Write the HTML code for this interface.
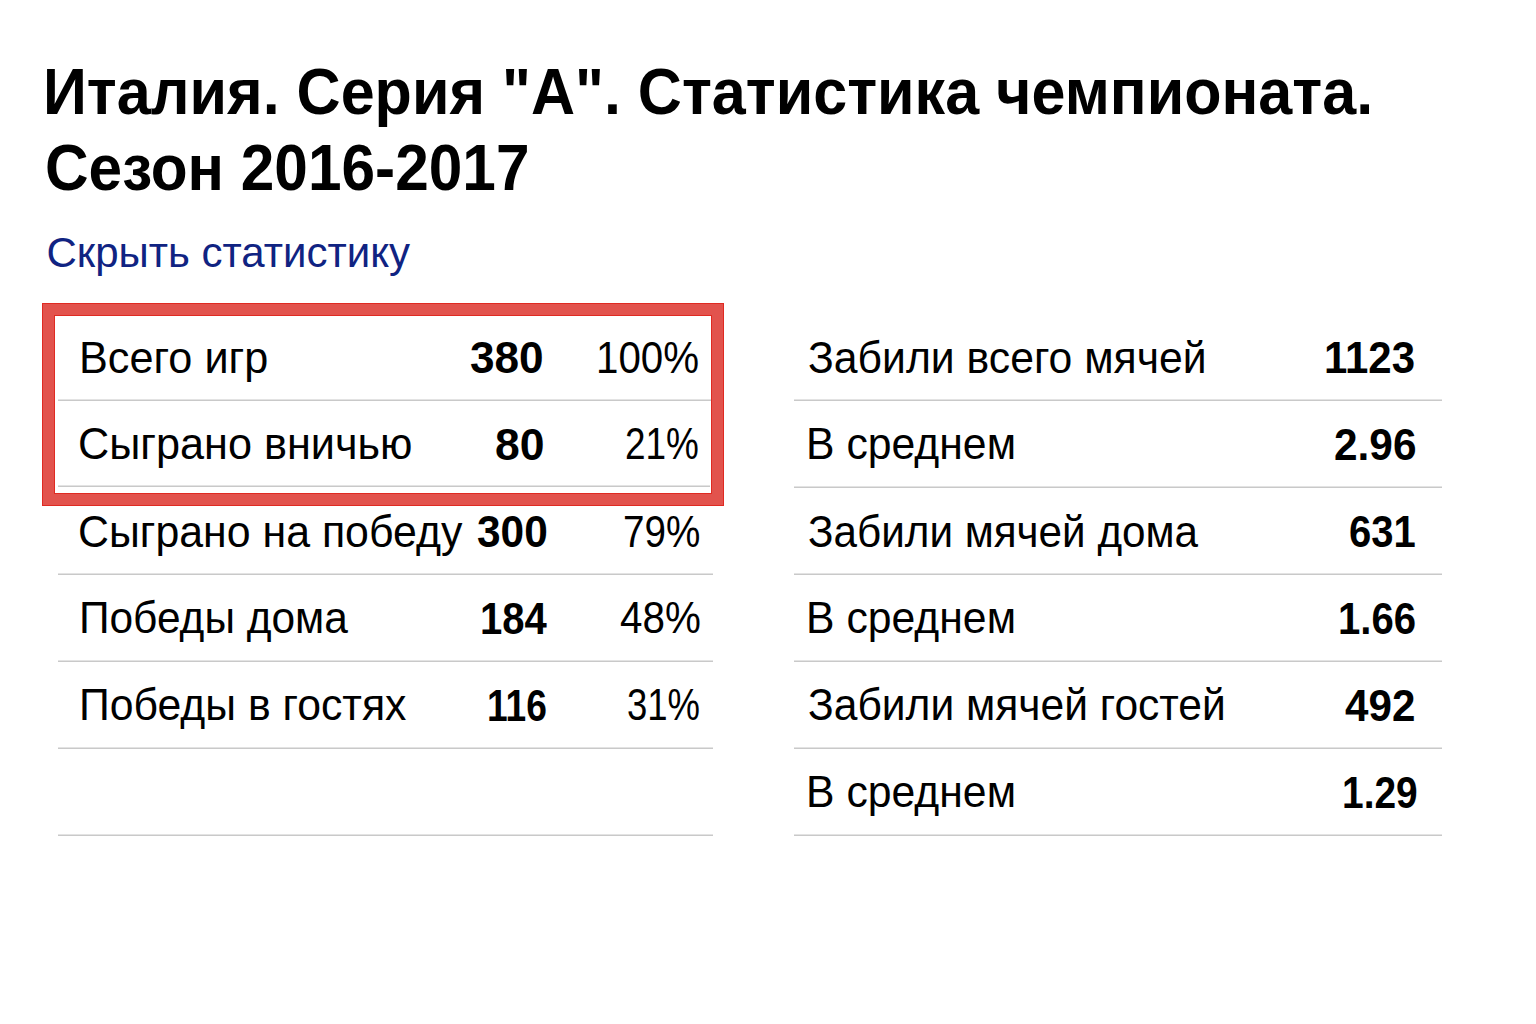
<!DOCTYPE html>
<html lang="ru"><head><meta charset="utf-8"><title>Италия. Серия "А". Статистика чемпионата. Сезон 2016-2017</title>
<style>
html,body{margin:0;padding:0;background:#fff;}
body{width:1536px;height:1024px;position:relative;overflow:hidden;font-family:"Liberation Sans",Arial,sans-serif;color:#000;}
.t{position:absolute;white-space:nowrap;transform-origin:0 0;}
.b{font-weight:bold}
.ln{position:absolute;height:1px;background:#c9c9c9;border-top:1px solid #e3e3e3;}
.box{position:absolute;left:42px;top:303px;width:658px;height:179px;border:12px solid #e2534d;box-shadow:inset 0 0 0 1px #e02a22;outline:1px solid #e02a22;outline-offset:-1px;}
a.t{text-decoration:none;display:block}
</style></head><body>
<div class="ln" style="left:58px;top:399px;width:655px"></div>
<div class="ln" style="left:58px;top:573px;width:655px"></div>
<div class="ln" style="left:58px;top:660px;width:655px"></div>
<div class="ln" style="left:58px;top:747px;width:655px"></div>
<div class="ln" style="left:58px;top:834px;width:655px"></div>
<div class="ln" style="left:58px;top:485px;width:652px"></div>
<div class="ln" style="left:794px;top:399px;width:648px"></div>
<div class="ln" style="left:794px;top:486px;width:648px"></div>
<div class="ln" style="left:794px;top:573px;width:648px"></div>
<div class="ln" style="left:794px;top:660px;width:648px"></div>
<div class="ln" style="left:794px;top:747px;width:648px"></div>
<div class="ln" style="left:794px;top:834px;width:648px"></div>
<div class="t b" style="left:43.48px;top:59.89px;font-size:64.5px;line-height:64.5px;transform:scaleX(0.9464);">Италия. Серия &quot;А&quot;. Статистика чемпионата.</div>
<div class="t b" style="left:44.91px;top:135.89px;font-size:64.5px;line-height:64.5px;transform:scaleX(0.9360);">Сезон 2016-2017</div>
<a href="#" class="t" style="left:46.53px;top:232.14px;font-size:42px;line-height:42px;color:#102382;">Скрыть статистику</a>
<div class="t" style="left:79.32px;top:335.52px;font-size:44.5px;line-height:44.5px;transform:scaleX(0.9720);">Всего игр</div>
<div class="t" style="left:77.67px;top:422.22px;font-size:44.5px;line-height:44.5px;transform:scaleX(0.9713);">Сыграно вничью</div>
<div class="t" style="left:77.69px;top:509.52px;font-size:44.5px;line-height:44.5px;transform:scaleX(0.9631);">Сыграно на победу</div>
<div class="t" style="left:78.58px;top:596.32px;font-size:44.5px;line-height:44.5px;transform:scaleX(0.9538);">Победы дома</div>
<div class="t" style="left:78.56px;top:683.32px;font-size:44.5px;line-height:44.5px;transform:scaleX(0.9608);">Победы в гостях</div>
<div class="t b" style="left:470.31px;top:335.95px;font-size:44px;line-height:44px;transform:scaleX(1.0036);">380</div>
<div class="t b" style="left:494.51px;top:422.65px;font-size:44px;line-height:44px;transform:scaleX(1.0113);">80</div>
<div class="t b" style="left:477.24px;top:509.95px;font-size:44px;line-height:44px;transform:scaleX(0.9642);">300</div>
<div class="t b" style="left:479.50px;top:596.75px;font-size:44px;line-height:44px;transform:scaleX(0.9106);">184</div>
<div class="t b" style="left:486.98px;top:683.75px;font-size:44px;line-height:44px;transform:scaleX(0.8445);">116</div>
<div class="t" style="left:595.78px;top:335.52px;font-size:44.5px;line-height:44.5px;transform:scaleX(0.9051);">100%</div>
<div class="t" style="left:625.07px;top:422.22px;font-size:44.5px;line-height:44.5px;transform:scaleX(0.8301);">21%</div>
<div class="t" style="left:622.99px;top:509.52px;font-size:44.5px;line-height:44.5px;transform:scaleX(0.8686);">79%</div>
<div class="t" style="left:619.67px;top:596.32px;font-size:44.5px;line-height:44.5px;transform:scaleX(0.9076);">48%</div>
<div class="t" style="left:627.36px;top:683.32px;font-size:44.5px;line-height:44.5px;transform:scaleX(0.8199);">31%</div>
<div class="t" style="left:807.67px;top:335.52px;font-size:44.5px;line-height:44.5px;transform:scaleX(0.9600);">Забили всего мячей</div>
<div class="t" style="left:805.66px;top:422.22px;font-size:44.5px;line-height:44.5px;transform:scaleX(0.9603);">В среднем</div>
<div class="t" style="left:807.68px;top:509.52px;font-size:44.5px;line-height:44.5px;transform:scaleX(0.9489);">Забили мячей дома</div>
<div class="t" style="left:805.66px;top:596.32px;font-size:44.5px;line-height:44.5px;transform:scaleX(0.9603);">В среднем</div>
<div class="t" style="left:807.67px;top:683.32px;font-size:44.5px;line-height:44.5px;transform:scaleX(0.9567);">Забили мячей гостей</div>
<div class="t" style="left:805.66px;top:770.42px;font-size:44.5px;line-height:44.5px;transform:scaleX(0.9603);">В среднем</div>
<div class="t b" style="left:1324.38px;top:335.95px;font-size:44px;line-height:44px;transform:scaleX(0.9530);">1123</div>
<div class="t b" style="left:1333.58px;top:422.65px;font-size:44px;line-height:44px;transform:scaleX(0.9631);">2.96</div>
<div class="t b" style="left:1348.75px;top:509.95px;font-size:44px;line-height:44px;transform:scaleX(0.9092);">631</div>
<div class="t b" style="left:1338.30px;top:596.75px;font-size:44px;line-height:44px;transform:scaleX(0.9109);">1.66</div>
<div class="t b" style="left:1344.70px;top:683.75px;font-size:44px;line-height:44px;transform:scaleX(0.9583);">492</div>
<div class="t b" style="left:1341.57px;top:770.85px;font-size:44px;line-height:44px;transform:scaleX(0.8840);">1.29</div>
<div class="box"></div>
</body></html>
